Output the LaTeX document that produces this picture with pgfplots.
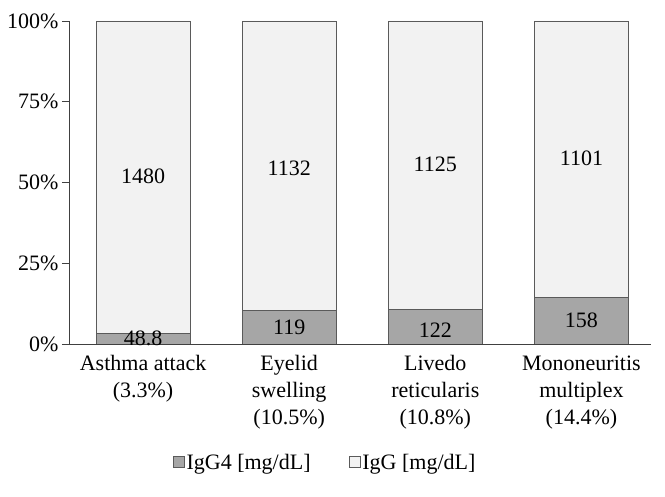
\documentclass[border=0pt]{standalone}
\usepackage{fontspec}
\setmainfont{Liberation Serif}
\usepackage{pgfplots}
\pgfplotsset{compat=1.18}
\definecolor{igfour}{HTML}{A6A6A6}
\definecolor{iggc}{HTML}{F2F2F2}
\definecolor{edge}{HTML}{5A5A5A}
\newcommand\fs{\fontsize{22}{27}\selectfont}
\begin{document}
\begin{tikzpicture}
\useasboundingbox (-69pt,-153pt) rectangle (596pt,344pt);
\begin{axis}[
  scale only axis, width=582pt, height=323pt,
  xmin=-0.507, xmax=3.476, ymin=0, ymax=100,
  axis x line*=bottom, axis y line*=left,
  axis line style={black!75, line width=0.8pt},
  ybar, bar width=94pt, bar shift=0pt,
  xtick={0,1,2,3},
  xticklabels={{Asthma attack\\(3.3\%)},{Eyelid\\swelling\\(10.5\%)},{Livedo\\reticularis\\(10.8\%)},{Mononeuritis\\multiplex\\(14.4\%)}},
  x tick label style={align=center, font=\fs, text=black, yshift=-1pt},
  xtick style={draw=none},
  ytick={0,25,50,75,100},
  yticklabels={0\%,25\%,50\%,75\%,100\%},
  y tick label style={font=\fs, text=black},
  ytick style={black!75, line width=0.8pt},
  tick align=outside, major tick length=7pt,
  legend style={draw=none, fill=none, font=\fs, at={(0.44,-0.368)}, anchor=center,
    /tikz/every even column/.append style={column sep=36pt}},
  legend columns=2,
  reverse legend,
  legend image code/.code={\draw[#1, line width=0.8pt] (0pt,-5pt) rectangle (11pt,6pt);},
]
\addplot[fill=iggc, draw=edge, line width=0.9pt, bar shift=0pt] coordinates {(0,100) (1,100) (2,100) (3,100)};
\addlegendentry{IgG [mg/dL]}
\addplot[fill=igfour, draw=edge, line width=0.9pt, bar shift=0pt] coordinates {(0,3.3) (1,10.5) (2,10.8) (3,14.4)};
\addlegendentry{IgG4 [mg/dL]}
\addplot[sharp plot, bar shift=0pt, draw=none, mark=none, forget plot, nodes near coords, point meta=explicit symbolic,
  every node near coord/.append style={anchor=center, font=\fs, text=black}]
  coordinates {(0,51.8) [1480] (1,54.5) [1132] (2,55.5) [1125] (3,57.5) [1101]
               (0,1.9) [48.8] (1,5.2) [119] (2,4.3) [122] (3,7.2) [158]};
\end{axis}
\end{tikzpicture}
\end{document}
